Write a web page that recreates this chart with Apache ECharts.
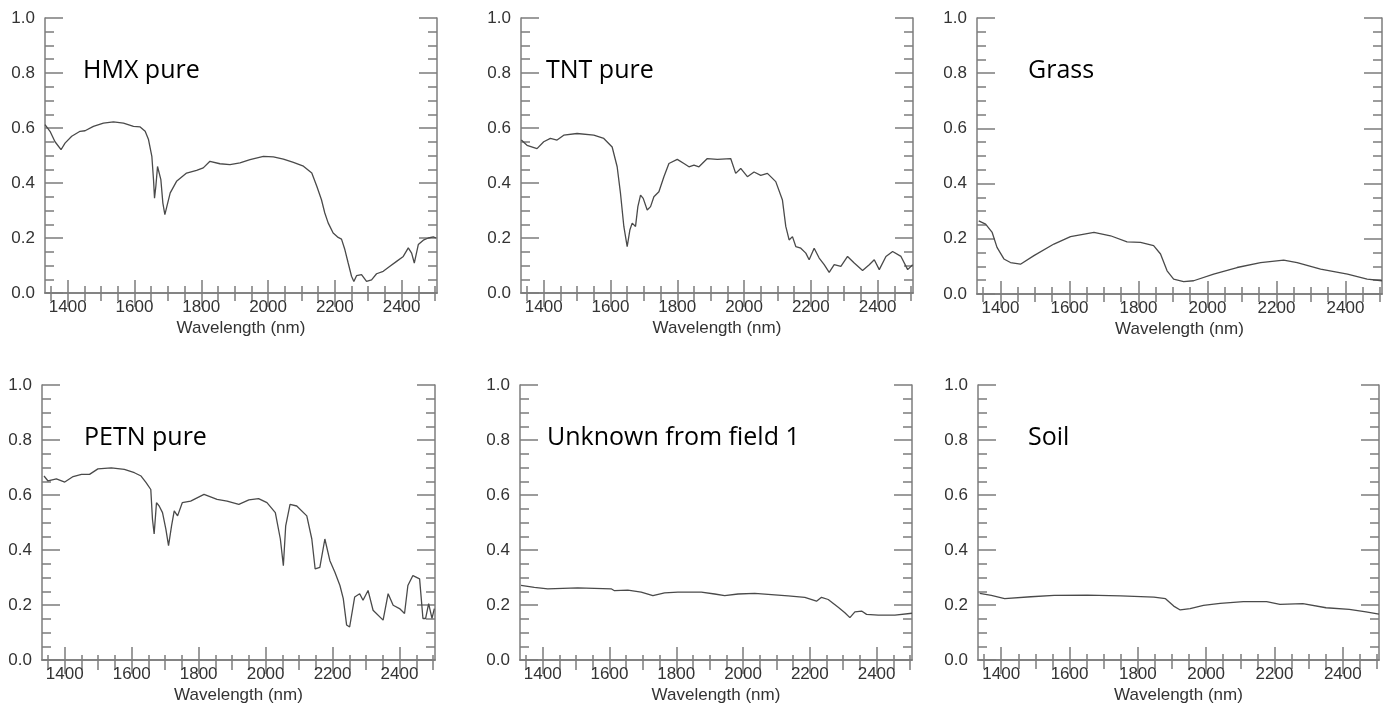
<!DOCTYPE html>
<html><head><meta charset="utf-8">
<script src="https://cdn.jsdelivr.net/npm/echarts@6/dist/echarts.min.js"></script>
<style>html,body{margin:0;padding:0;background:#fff}#c{width:1389px;height:705px}</style>
</head><body><div id="c"></div>
<script>
// ---------- data ----------
const xMajorTicks = [1400, 1600, 1800, 2000, 2200, 2400];
const xMinorTicks = [1350,1400,1450,1500,1550,1600,1650,1700,1750,1800,1850,1900,1950,2000,2050,2100,2150,2200,2250,2300,2350,2400,2450,2500];
const panelNames = ['HMX pure', 'TNT pure', 'Grass', 'PETN pure', 'Unknown from field 1', 'Soil'];

const hmxWavelength = [1332,1347,1362,1380,1392,1412,1437,1452,1457,1477,1507,1537,1567,1597,1617,1632,1642,1652,1657,1660,1664,1669,1674,1679,1685,1691,1697,1707,1726,1756,1786,1806,1826,1856,1886,1916,1946,1986,2016,2046,2076,2106,2131,2146,2160,2170,2180,2195,2210,2220,2230,2240,2250,2257,2265,2280,2295,2310,2325,2345,2365,2385,2405,2420,2430,2438,2450,2465,2480,2495,2503];
const hmxReflectance = [0.612,0.588,0.55,0.521,0.545,0.57,0.588,0.59,0.584,0.606,0.618,0.622,0.618,0.606,0.604,0.588,0.558,0.497,0.412,0.345,0.388,0.46,0.467,0.412,0.327,0.285,0.315,0.364,0.406,0.436,0.446,0.455,0.479,0.47,0.467,0.473,0.485,0.497,0.495,0.487,0.475,0.461,0.436,0.388,0.339,0.291,0.255,0.218,0.202,0.196,0.158,0.109,0.061,0.042,0.063,0.067,0.042,0.048,0.07,0.079,0.097,0.115,0.133,0.164,0.145,0.109,0.176,0.192,0.2,0.204,0.2];

const tntWavelength = [1333,1350,1380,1400,1420,1440,1460,1500,1550,1580,1605,1620,1630,1640,1650,1658,1665,1675,1682,1690,1698,1710,1720,1730,1745,1760,1775,1800,1820,1835,1850,1865,1890,1920,1960,1975,1990,2010,2030,2050,2070,2095,2115,2125,2135,2145,2155,2170,2185,2195,2210,2225,2240,2255,2270,2290,2310,2330,2355,2375,2390,2405,2425,2445,2470,2490,2505];
const tntReflectance = [0.556,0.537,0.525,0.55,0.562,0.556,0.574,0.58,0.574,0.562,0.531,0.459,0.362,0.242,0.169,0.229,0.254,0.242,0.314,0.356,0.344,0.302,0.314,0.35,0.368,0.423,0.471,0.486,0.471,0.459,0.465,0.459,0.489,0.486,0.489,0.435,0.453,0.423,0.44,0.428,0.435,0.405,0.338,0.242,0.193,0.205,0.169,0.163,0.145,0.121,0.163,0.127,0.103,0.075,0.103,0.097,0.133,0.109,0.082,0.103,0.121,0.085,0.133,0.151,0.133,0.085,0.103];

const grassWavelength = [1337,1357,1376,1390,1410,1429,1458,1497,1555,1603,1671,1719,1767,1806,1844,1864,1883,1902,1931,1960,2018,2086,2154,2221,2260,2328,2406,2463,2506];
const grassReflectance = [0.265,0.253,0.223,0.169,0.127,0.114,0.108,0.139,0.181,0.208,0.223,0.211,0.189,0.187,0.175,0.145,0.084,0.054,0.045,0.048,0.072,0.096,0.114,0.123,0.114,0.09,0.072,0.054,0.048];

const petnWavelength = [1338,1350,1375,1400,1425,1450,1474,1499,1539,1578,1608,1628,1643,1657,1662,1667,1674,1682,1692,1702,1710,1719,1727,1737,1751,1776,1816,1855,1885,1920,1950,1979,2004,2029,2044,2053,2060,2073,2093,2123,2138,2148,2162,2177,2192,2207,2222,2232,2242,2251,2266,2281,2291,2306,2321,2351,2366,2381,2400,2415,2425,2440,2460,2470,2478,2487,2497,2504];
const petnReflectance = [0.669,0.651,0.659,0.647,0.667,0.675,0.675,0.695,0.699,0.693,0.681,0.669,0.645,0.62,0.512,0.458,0.572,0.56,0.536,0.476,0.416,0.488,0.542,0.524,0.572,0.578,0.602,0.584,0.578,0.566,0.582,0.587,0.572,0.536,0.44,0.343,0.488,0.566,0.56,0.524,0.44,0.331,0.337,0.44,0.361,0.319,0.271,0.223,0.127,0.12,0.229,0.241,0.217,0.253,0.181,0.145,0.241,0.199,0.187,0.169,0.271,0.307,0.295,0.151,0.151,0.205,0.151,0.187];

const unknownWavelength = [1335,1375,1415,1505,1605,1615,1655,1695,1730,1765,1805,1875,1915,1945,1985,2035,2085,2135,2185,2220,2235,2255,2285,2305,2320,2335,2355,2370,2405,2455,2506];
const unknownReflectance = [0.271,0.264,0.259,0.262,0.259,0.252,0.254,0.247,0.234,0.244,0.247,0.247,0.24,0.234,0.24,0.242,0.238,0.233,0.228,0.214,0.228,0.22,0.192,0.172,0.154,0.175,0.178,0.166,0.163,0.163,0.17];

const soilWavelength = [1337,1371,1410,1487,1555,1652,1750,1847,1881,1905,1924,1953,1992,2041,2109,2177,2216,2283,2351,2419,2468,2506];
const soilReflectance = [0.242,0.235,0.223,0.23,0.235,0.236,0.233,0.229,0.223,0.196,0.182,0.187,0.199,0.206,0.212,0.212,0.202,0.205,0.19,0.184,0.175,0.167];

const panelWavelengths = [hmxWavelength, tntWavelength, grassWavelength, petnWavelength, unknownWavelength, soilWavelength];
const panelReflectances = [hmxReflectance, tntReflectance, grassReflectance, petnReflectance, unknownReflectance, soilReflectance];

// ---------- layout ----------
const X_MIN = 1332, X_MAX = 2506;
const rects = [
  {left: 45,  top: 18,  width: 392, height: 275},
  {left: 521, top: 18,  width: 392, height: 275},
  {left: 977, top: 18,  width: 405, height: 276},
  {left: 42,  top: 385, width: 393, height: 277},
  {left: 520, top: 385, width: 392, height: 277},
  {left: 978, top: 385, width: 401, height: 276}
];
const AXIS_COLOR = '#7c7c7c';
const LABEL_COLOR = '#333';
const LABEL_FONT = '"Liberation Sans", Arial, sans-serif';

const grid = [], xAxis = [], yAxis = [], series = [], title = [];
rects.forEach(r => grid.push(Object.assign({containLabel: false}, r)));
rects.forEach(r => grid.push(Object.assign({containLabel: false}, r)));

const lineStyle = {color: AXIS_COLOR, width: 1.5};
for (let i = 0; i < 6; i++) {
  xAxis.push({
    type: 'value', gridIndex: i, position: 'bottom', min: X_MIN, max: X_MAX,
    axisLine: {show: true, lineStyle},
    axisTick: {show: true, inside: true, length: 13, customValues: xMajorTicks, lineStyle},
    axisLabel: {show: true, customValues: xMajorTicks, margin: 6, fontSize: 17, color: LABEL_COLOR, fontFamily: LABEL_FONT,
      formatter: v => String(v)},
    splitLine: {show: false},
    name: 'Wavelength (nm)', nameLocation: 'middle', nameGap: 27,
    nameTextStyle: {fontSize: 17, color: LABEL_COLOR, fontFamily: LABEL_FONT}
  });
  xAxis.push({
    type: 'value', gridIndex: i, position: 'top', min: X_MIN, max: X_MAX,
    axisLine: {show: true, lineStyle},
    axisTick: {show: true, inside: true, length: 14, customValues: xMajorTicks, lineStyle},
    axisLabel: {show: false}, splitLine: {show: false}
  });
  yAxis.push({
    type: 'value', gridIndex: i, position: 'left', min: 0, max: 1, interval: 0.2,
    axisLine: {show: true, lineStyle},
    axisTick: {show: true, inside: true, length: 18, lineStyle},
    minorTick: {show: true, splitNumber: 4, length: 9, lineStyle},
    axisLabel: {show: true, margin: 10, fontSize: 17, color: LABEL_COLOR, fontFamily: LABEL_FONT,
      formatter: v => v.toFixed(1)},
    splitLine: {show: false}, minorSplitLine: {show: false}
  });
  yAxis.push({
    type: 'value', gridIndex: i, position: 'right', min: 0, max: 1, interval: 0.2,
    axisLine: {show: true, lineStyle},
    axisTick: {show: true, inside: true, length: 18, lineStyle},
    minorTick: {show: true, splitNumber: 4, length: 9, lineStyle},
    axisLabel: {show: false}, splitLine: {show: false}, minorSplitLine: {show: false}
  });
}
for (let i = 0; i < 6; i++) {
  xAxis.push({
    type: 'value', gridIndex: 6 + i, position: 'bottom', min: X_MIN, max: X_MAX,
    axisLine: {show: false},
    axisTick: {show: true, inside: true, length: 7, customValues: xMinorTicks, lineStyle},
    axisLabel: {show: false}, splitLine: {show: false}
  });
  xAxis.push({
    type: 'value', gridIndex: 6 + i, position: 'top', min: X_MIN, max: X_MAX,
    axisLine: {show: false},
    axisTick: {show: true, inside: true, length: 8, customValues: xMinorTicks, lineStyle},
    axisLabel: {show: false}, splitLine: {show: false}
  });
  yAxis.push({type: 'value', gridIndex: 6 + i, min: 0, max: 1, show: false});
  yAxis.push({type: 'value', gridIndex: 6 + i, min: 0, max: 1, show: false, position: 'right'});
}

const titlePos = [
  {left: 83, top: 58}, {left: 546, top: 58}, {left: 1028, top: 58},
  {left: 84, top: 425}, {left: 547, top: 425}, {left: 1028, top: 425}
];
for (let i = 0; i < 6; i++) {
  const wl = panelWavelengths[i], rf = panelReflectances[i];
  series.push({
    type: 'line', xAxisIndex: 2 * i, yAxisIndex: 2 * i,
    data: wl.map((w, k) => [w, rf[k]]),
    showSymbol: false, symbol: 'none', smooth: false,
    lineStyle: {color: '#4a4a4a', width: 1.3},
    silent: true, animation: false
  });
  title.push({
    text: panelNames[i], left: titlePos[i].left, top: titlePos[i].top, padding: 0,
    textStyle: {fontSize: 25, fontWeight: 'normal', color: '#000', fontFamily: '"Open Sans", "Noto Sans", sans-serif'}
  });
}

const chart = echarts.init(document.getElementById('c'), null, {renderer: 'canvas'});
chart.setOption({backgroundColor: '#fff', animation: false, title, grid, xAxis, yAxis, series});
</script>
</body></html>
